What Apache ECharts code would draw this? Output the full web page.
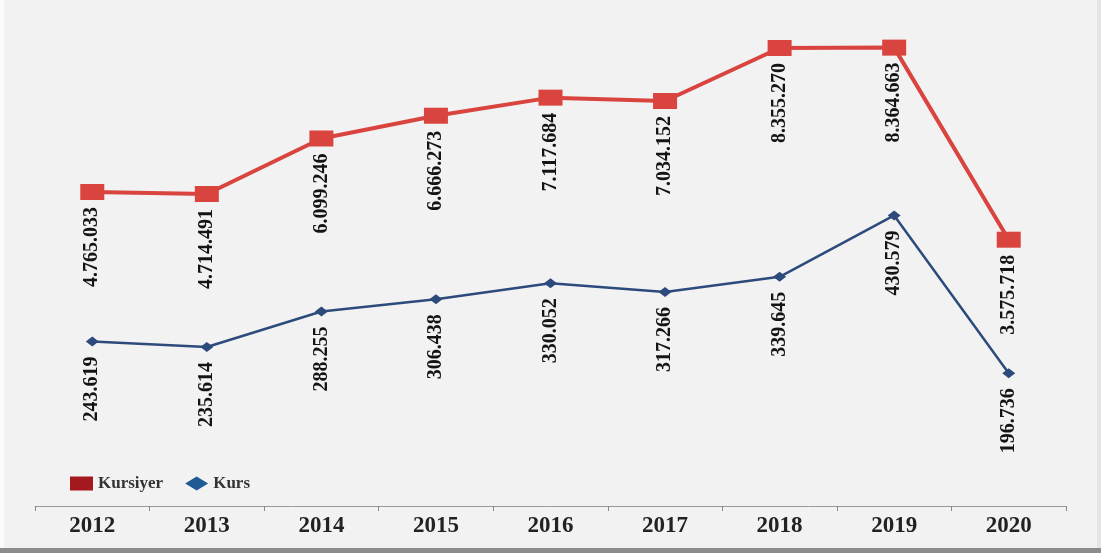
<!DOCTYPE html>
<html>
<head>
<meta charset="utf-8">
<script src="https://cdn.jsdelivr.net/npm/echarts@6/dist/echarts.min.js"></script>
<style>html,body{margin:0;padding:0;background:#f2f2f2;}#c{width:1101px;height:553px;}</style>
</head>
<body>
<div id="c"></div>
<script>
var years = ['2012','2013','2014','2015','2016','2017','2018','2019','2020'];
var kursiyer = [4765033, 4714491, 6099246, 6666273, 7117684, 7034152, 8355270, 8364663, 3575718];
var kurs = [243619, 235614, 288255, 306438, 330052, 317266, 339645, 430579, 196736];

function fmt(v){ return String(v).replace(/\B(?=(\d{3})+(?!\d))/g, '.'); }

var chart = echarts.init(document.getElementById('c'));
var lblFont = {fontFamily:'Liberation Serif', fontWeight:'bold', fontSize:20, color:'#141414'};
chart.setOption({
  animation:false,
  backgroundColor:'#f2f2f2',
  graphic:[
    {type:'rect', shape:{x:0,y:0,width:4,height:553}, style:{fill:'#fbfbfb'}, z:-10},
    {type:'rect', shape:{x:0,y:548,width:1101,height:5}, style:{fill:'#8c8c8c'}, z:-10},
    {type:'rect', shape:{x:1097,y:0,width:4,height:548}, style:{fill:'#e4e4e4'}, z:-10}
  ],
  grid:{left:35, right:35, top:10, bottom:47},
  legend:{
    left:65, top:470, itemWidth:23, itemHeight:14, itemGap:22,
    textStyle:{fontFamily:'Liberation Serif', fontWeight:'bold', fontSize:17, color:'#333'},
    data:[
      {name:'Kursiyer', icon:'rect', itemStyle:{color:'#a3191d'}},
      {name:'Kurs', icon:'diamond', itemStyle:{color:'#1f5a96'}}
    ]
  },
  xAxis:{
    type:'category', data:years, boundaryGap:true,
    axisLine:{onZero:false, lineStyle:{color:'#999', width:1}},
    axisTick:{show:true, alignWithLabel:false, interval:0, length:5, lineStyle:{color:'#888', width:1}},
    axisLabel:{fontFamily:'Liberation Serif', fontWeight:'bold', fontSize:23, color:'#222', margin:9}
  },
  yAxis:[
    {type:'value', min:-3063700, max:9302700, show:false, splitLine:{show:false}},
    {type:'value', min:0, max:735000, show:false, splitLine:{show:false}}
  ],
  series:[
    {
      name:'Kursiyer', type:'line', yAxisIndex:0, data:kursiyer,
      symbol:'rect', symbolSize:[24,16],
      lineStyle:{color:'#d9443f', width:4},
      itemStyle:{color:'#d9443f'},
      label:Object.assign({show:true, position:'bottom', rotate:90, align:'right', verticalAlign:'middle', distance:7,
        formatter:function(p){return fmt(p.value);}}, lblFont),
      z:3
    },
    {
      name:'Kurs', type:'line', yAxisIndex:1, data:kurs,
      symbol:'diamond', symbolSize:[13,10],
      lineStyle:{color:'#2d4a7c', width:2.5},
      itemStyle:{color:'#2d4a7c'},
      label:Object.assign({show:true, position:'bottom', rotate:90, align:'right', verticalAlign:'middle', distance:10,
        formatter:function(p){return fmt(p.value);}}, lblFont),
      z:2
    }
  ]
});
</script>
</body>
</html>
